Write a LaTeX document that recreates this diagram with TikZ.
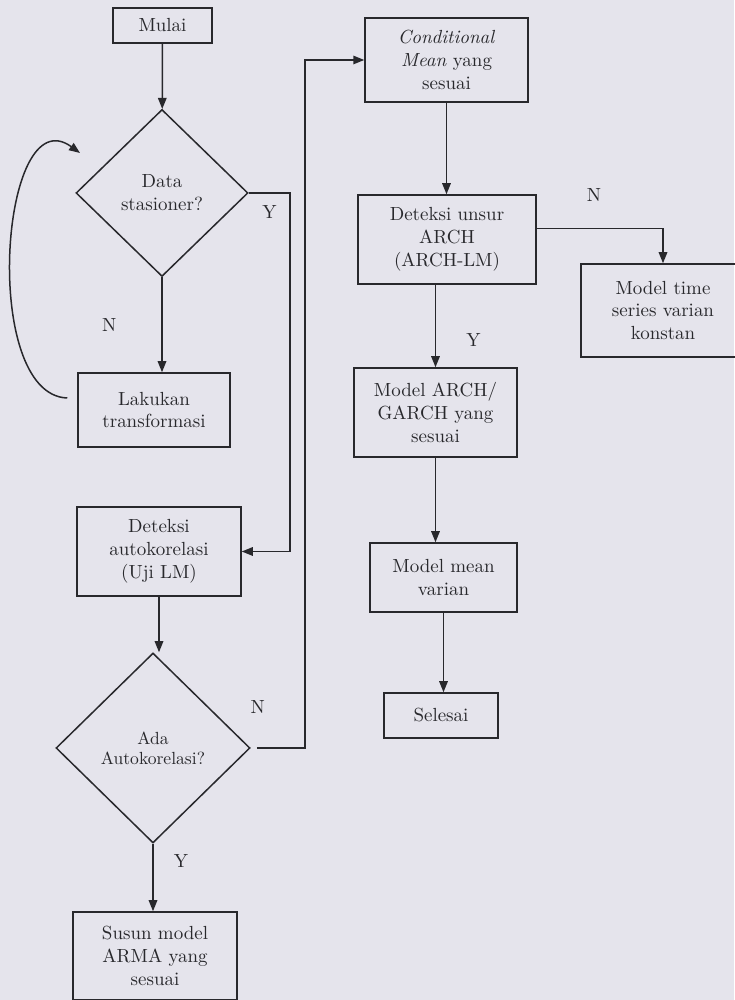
\documentclass[tikz,border=0pt]{standalone}
\usepackage{amsmath,amssymb}
\usepackage{tikz}
\usetikzlibrary{arrows.meta}
\usetikzlibrary{positioning}
\usetikzlibrary{shapes.geometric}

\definecolor{paper}{RGB}{229,228,236}
\definecolor{ink}{RGB}{40,40,44}

\begin{document}
\begin{tikzpicture}[
  box/.style={draw=ink, line width=0.03cm, text=ink, align=center,
              inner sep=0cm, font=\fontsize{10.8}{13}\selectfont},
  keputusan/.style={draw=ink, diamond, line width=0.03cm, text=ink,
              align=center, inner sep=0cm},
  flow/.style={draw=ink, line width=0.03cm,
              -{Triangle[length=0.22cm,width=0.17cm]}},
  label/.style={text=ink, inner sep=0.1cm, font=\fontsize{10.8}{13}\selectfont}
]

% kertas
\fill[paper] (0,0) rectangle (14.68,20);
\useasboundingbox (0,0) rectangle (14.68,20);

% kolom kiri
\node[box, minimum width=1.98cm, minimum height=0.70cm] (mulai)
  at (3.25,19.49) {Mulai};
\node[keputusan, minimum width=3.44cm, minimum height=3.34cm,
      font=\fontsize{10.8}{13}\selectfont] (stas)
  at (3.24,16.14) {Data\\stasioner?};
\node[box, minimum width=3.04cm, minimum height=1.48cm] (lakukan)
  at (3.08,11.80) {Lakukan\\transformasi};
\node[box, minimum width=3.28cm, minimum height=1.78cm] (autokor)
  at (3.18,8.97) {Deteksi\\autokorelasi\\(Uji LM)};
\node[keputusan, minimum width=3.88cm, minimum height=3.80cm,
      font=\fontsize{10}{11.5}\selectfont] (ada)
  at (3.06,5.04) {Ada\\Autokorelasi?};
\node[box, minimum width=3.28cm, minimum height=1.76cm] (susun)
  at (3.10,0.88) {Susun model\\ARMA yang\\sesuai};

% kolom kanan
\node[box, minimum width=3.26cm, minimum height=1.68cm] (cm)
  at (8.93,18.80) {\textit{Conditional}\\\textit{Mean} yang\\sesuai};
\node[box, minimum width=3.56cm, minimum height=1.78cm] (arch)
  at (8.94,15.21) {Deteksi unsur\\ARCH\\(ARCH-LM)};
\node[box, minimum width=3.28cm, minimum height=1.86cm] (modeltime)
  at (13.26,13.79) {Model time\\series varian\\konstan};
\node[box, minimum width=3.26cm, minimum height=1.78cm] (garch)
  at (8.71,11.75) {Model ARCH/\\GARCH yang\\sesuai};
\node[box, minimum width=2.94cm, minimum height=1.38cm] (mean)
  at (8.87,8.45) {Model mean\\varian};
\node[box, minimum width=2.28cm, minimum height=0.90cm] (selesai)
  at (8.82,5.69) {Selesai};

% jalur balik
\coordinate (yline) at (5.80,0);
\coordinate (nline) at (6.10,0);
\coordinate (loopend) at (1.60,16.94);

% panah kolom kiri
\draw[flow] (mulai) -- (stas);
\draw[flow] (stas) -- node[label, midway, left=0.8cm] (lblN1) {N}
  (stas |- lakukan.north);
\draw[flow] (stas.east) -- node[label, midway, below=0.14cm] (lblY1) {Y}
  (stas.east -| yline) |- (autokor.east);
\draw[flow] ([xshift=-0.2cm,yshift=0.24cm]lakukan.west)
  .. controls (-0.4,12.1) and (0.0,18.1) .. (loopend);
\draw[flow] (autokor) -- (autokor |- ada.north);
\draw[flow] (ada) -- node[label, pos=0.25, right=0.3cm] (lblY2) {Y}
  (ada |- susun.north);
\draw[flow] ([xshift=0.12cm]ada.east) -- (ada.east -| nline) |- (cm.west);
\node[label] (lblN2) at ([xshift=0.14cm,yshift=0.82cm]ada.east) {N};

% panah kolom kanan
\draw[flow] (cm) -- (cm |- arch.north);
\draw[flow] ([yshift=0.22cm]arch.east) -| node[label, pos=0.227, above=0.42cm] (lblN3) {N}
  (modeltime.north);
\draw[flow] (arch.south -| garch) -- node[label, pos=0.67, right=0.5cm] (lblY3) {Y}
  (garch.north);
\draw[flow] (garch) -- (garch |- mean.north);
\draw[flow] (mean) -- (mean |- selesai.north);
\end{tikzpicture}
\end{document}
